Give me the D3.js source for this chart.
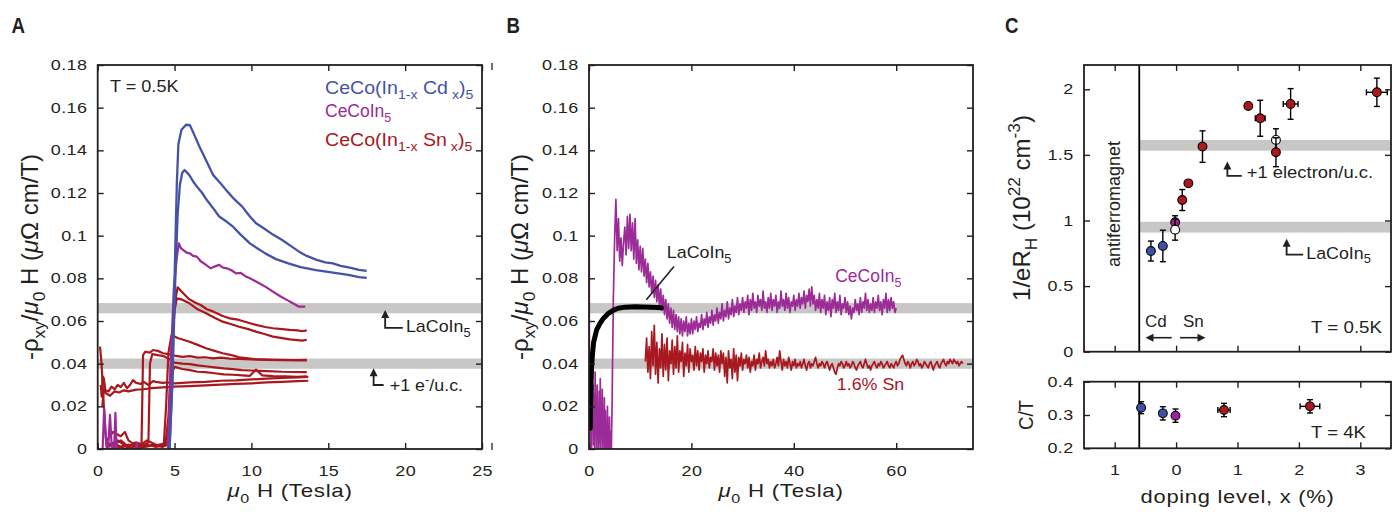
<!DOCTYPE html>
<html><head><meta charset="utf-8">
<script src="https://cdn.jsdelivr.net/npm/d3@7"></script>
<style>
body{margin:0;background:#fff}
svg{display:block;font-family:"Liberation Sans",Arial,Helvetica,sans-serif}
</style>
</head><body><script>
// ---------- data ----------
// panel A : -rho_xy/mu0H vs field, [tesla, value]
const cdHigh = [[4.65,-0.004],[4.85,0.03],[5.0,0.08],[5.15,0.125],[5.25,0.143],[5.45,0.1496],[5.75,0.152],[6.0,0.1518],[6.3,0.147],[6.6,0.142],[7.0,0.136],[7.5,0.1285],[8.0,0.1245],[8.4,0.121],[8.9,0.117],[9.4,0.1136],[9.9,0.109],[10.3,0.1058],[10.8,0.1035],[11.4,0.1005],[12.0,0.098],[12.6,0.095],[13.1,0.0925],[13.6,0.0905],[14.2,0.0888],[14.8,0.0875],[15.3,0.087],[15.8,0.0858],[16.4,0.085],[17.0,0.084],[17.5,0.0835]];
const cdLow = [[4.65,-0.004],[4.85,0.03],[5.05,0.08],[5.2,0.11],[5.35,0.124],[5.5,0.1295],[5.65,0.1308],[5.95,0.1285],[6.2,0.1255],[6.45,0.123],[6.8,0.12],[7.1,0.1167],[7.5,0.113],[7.9,0.109],[8.4,0.1065],[8.8,0.1042],[9.3,0.1005],[9.9,0.0964],[10.4,0.094],[10.9,0.0917],[11.6,0.089],[12.4,0.087],[13.2,0.0853],[14.2,0.0839],[15.2,0.0828],[16.3,0.0816],[17.0,0.0806],[17.5,0.0802]];
const pureA = [[0.3,-0.004],[0.42,0.019],[0.55,0.003],[0.65,-0.004],[0.8,0.016],[0.95,-0.004],[1.05,-0.004],[1.15,0.017],[1.25,-0.004],[2.45,-0.004],[2.55,0.003],[2.65,-0.004],[4.55,-0.004],[4.75,0.04],[4.95,0.075],[5.15,0.09],[5.28,0.0964],[5.42,0.094],[5.55,0.0933],[5.8,0.092],[6.0,0.0917],[6.2,0.0905],[6.45,0.0902],[6.7,0.088],[7.0,0.0865],[7.35,0.0847],[7.6,0.0855],[7.9,0.0863],[8.15,0.085],[8.4,0.0847],[8.7,0.0838],[9.0,0.0823],[9.3,0.0826],[9.6,0.081],[9.9,0.08],[10.3,0.0785],[10.9,0.0761],[11.4,0.0738],[11.9,0.0715],[12.3,0.0699],[12.7,0.0683],[13.1,0.0667],[13.5,0.0667]];
const snA = [
  [[0.55,-0.002],[1.2,0.002],[1.8,0.0],[2.4,0.003],[3.0,0.001],[3.6,0.002],[4.2,0.001],[4.55,0.002],[4.7,0.02],[4.85,0.05],[5.0,0.068],[5.2,0.0758],[5.5,0.0735],[5.9,0.0705],[6.3,0.0688],[6.7,0.0675],[7.1,0.0655],[7.5,0.0645],[8.1,0.0625],[8.6,0.0612],[9.2,0.0605],[9.8,0.0592],[10.3,0.0582],[10.9,0.0572],[11.4,0.0566],[12.0,0.0562],[12.5,0.0558],[13.0,0.0556],[13.3,0.0552],[13.6,0.0556]],
  [[0.7,0.001],[1.3,0.004],[1.9,0.001],[2.6,0.0],[3.2,0.002],[3.8,0.001],[4.4,0.002],[4.6,0.015],[4.8,0.045],[5.0,0.065],[5.15,0.0706],[5.5,0.07],[5.97,0.0683],[6.5,0.0655],[7.05,0.0636],[7.6,0.0615],[8.13,0.0597],[8.7,0.0585],[9.2,0.0573],[9.8,0.0562],[10.3,0.055],[10.9,0.0538],[11.4,0.0527],[12.0,0.052],[12.5,0.0514],[13.0,0.051],[13.3,0.0508],[13.6,0.0512]],
  [[0.6,0.004],[1.0,0.008],[1.5,0.006],[1.77,0.008],[2.0,0.004],[2.6,0.001],[3.2,0.004],[3.8,0.002],[4.3,0.002],[4.45,0.02],[4.6,0.045],[4.8,0.0534],[5.2,0.052],[5.97,0.0503],[6.5,0.0488],[7.05,0.0472],[7.6,0.046],[8.13,0.0449],[8.7,0.044],[9.2,0.043],[9.8,0.0425],[10.3,0.042],[11.0,0.0418],[12.0,0.0416],[13.0,0.0417],[13.6,0.0418]],
  [[0.15,0.048],[0.25,0.04],[0.32,0.03],[0.4,0.02],[0.5,0.008],[0.6,0.001],[1.0,0.003],[1.5,0.001],[2.0,0.002],[2.5,0.001],[2.85,0.002],[2.95,0.044],[3.1,0.0456],[3.4,0.0452],[3.6,0.0464],[3.9,0.046],[4.25,0.0449],[4.6,0.0445],[5.0,0.0438],[5.5,0.0432],[6.0,0.0435],[6.5,0.0428],[7.0,0.043],[7.5,0.0425],[8.0,0.0428],[8.6,0.0424],[9.2,0.0422],[10.0,0.042],[11.0,0.0419],[12.0,0.0418],[13.6,0.0415]],
  [[0.5,0.003],[1.0,0.002],[1.5,0.004],[2.0,0.001],[2.5,0.003],[3.0,0.002],[3.3,0.003],[3.4,0.04],[3.55,0.0445],[3.9,0.044],[4.3,0.0435],[4.7,0.042],[5.0,0.0405],[5.5,0.04],[6.0,0.0398],[6.5,0.0392],[7.0,0.0388],[7.6,0.0383],[8.2,0.0378],[8.8,0.0374],[9.4,0.037],[10.0,0.0368],[11.0,0.0365],[12.0,0.0362],[13.6,0.036]],
  [[1.0,0.0],[2.0,0.002],[3.0,0.001],[4.0,0.002],[4.55,0.003],[4.7,0.02],[4.85,0.036],[5.0,0.0385],[5.5,0.0375],[6.0,0.037],[6.5,0.0362],[7.0,0.036],[7.6,0.0355],[8.2,0.035],[8.8,0.0348],[9.4,0.0345],[9.9,0.0343],[10.3,0.0372],[10.7,0.0345],[11.4,0.0342],[12.2,0.034],[13.0,0.0338],[13.6,0.034]],
  [[0.2,0.03],[0.26,0.0245],[0.33,0.034],[0.4,0.033],[0.5,0.0277],[0.7,0.027],[0.9,0.0292],[1.1,0.028],[1.3,0.03],[1.5,0.029],[1.7,0.031],[1.9,0.0285],[2.1,0.03],[2.3,0.0323],[2.5,0.031],[2.8,0.0305],[3.0,0.0315],[3.3,0.03],[3.6,0.0318],[3.8,0.0315],[4.2,0.031],[4.6,0.0312],[5.0,0.0308],[5.5,0.031],[6.0,0.0312],[7.0,0.0315],[8.0,0.032],[9.0,0.0322],[10.0,0.0326],[11.0,0.033],[12.0,0.0333],[13.0,0.0336],[13.7,0.0338]],
  [[0.3,0.02],[0.4,0.028],[0.55,0.026],[0.8,0.025],[1.1,0.027],[1.4,0.0265],[1.7,0.0275],[2.0,0.027],[2.5,0.0278],[3.0,0.028],[3.5,0.0285],[4.0,0.0288],[4.5,0.029],[5.0,0.0292],[6.0,0.0295],[7.0,0.0298],[8.0,0.0302],[9.0,0.0305],[10.0,0.0308],[11.0,0.0312],[12.0,0.0315],[13.0,0.0318],[13.7,0.032]]
];
const bandsAB = [0.066, 0.040];      // LaCoIn5, +1 e-/u.c. levels
const bandHalf = 0.0024;

// panel B : pulsed field traces
const pureLowStep = 0.1;             // 0 .. 4.4 T
const pureBLow = [
  0.150,0.010,0.035,0.000,0.028,-0.005,0.038,0.010,0.030,0.002,0.025,-0.004,0.036,0.008,0.022,0.000,0.030,0.005,0.018,-0.006,
  0.027,0.003,0.033,0.000,0.020,0.006,0.028,-0.003,0.015,0.004,0.024,-0.006,0.018,0.002,0.012,-0.008,0.020,0.000,0.010,-0.010,
  0.015,-0.005,0.008,-0.010,0.005
];
const pureStart = 4.5, pureStep = 0.25;   // 4.5 .. 60 T
const pureB = [
  0.020,0.070,
  0.098,0.117,0.093,0.108,0.088,0.099,0.086,0.097,0.104,0.091,0.109,0.094,0.110,0.093,0.106,0.089,0.108,0.087,0.098,0.084,
  0.095,0.083,0.094,0.081,0.089,0.078,0.087,0.076,0.083,0.073,0.081,0.071,0.079,0.069,0.077,0.067,0.075,0.065,0.072,0.063,
  0.070,0.061,0.068,0.059,0.066,0.057,0.065,0.056,0.063,0.055,0.062,0.054,0.061,0.053,0.060,0.055,0.062,0.053,0.059,0.054,
  0.061,0.054,0.060,0.056,0.062,0.055,0.059,0.057,0.063,0.056,0.061,0.058,0.064,0.057,0.062,0.059,0.065,0.058,0.063,0.060,
  0.066,0.059,0.064,0.061,0.068,0.060,0.065,0.062,0.069,0.061,0.066,0.063,0.070,0.062,0.067,0.064,0.071,0.063,0.068,0.065,
  0.071,0.064,0.069,0.066,0.072,0.063,0.070,0.065,0.073,0.066,0.069,0.064,0.072,0.067,0.070,0.065,0.074,0.066,0.069,0.064,
  0.071,0.066,0.073,0.065,0.070,0.067,0.072,0.064,0.069,0.066,0.074,0.067,0.070,0.065,0.073,0.066,0.071,0.064,0.069,0.067,
  0.072,0.065,0.070,0.067,0.073,0.066,0.071,0.068,0.074,0.066,0.072,0.069,0.075,0.067,0.076,0.068,0.072,0.065,0.070,0.066,
  0.073,0.064,0.070,0.066,0.072,0.063,0.069,0.065,0.071,0.062,0.070,0.066,0.073,0.064,0.069,0.065,0.072,0.063,0.068,0.066,
  0.071,0.064,0.069,0.063,0.067,0.061,0.066,0.064,0.070,0.065,0.068,0.063,0.071,0.064,0.069,0.066,0.073,0.065,0.070,0.064,
  0.068,0.065,0.071,0.064,0.069,0.066,0.072,0.065,0.069,0.063,0.070,0.066,0.073,0.064,0.070,0.065,0.071,0.066,0.069,0.064,
  0.066
];
const snStart = 11, snStep = 0.25;        // 11 .. 73 T
const snB = [
  0.041,0.052,0.036,0.048,0.033,0.055,0.039,0.058,0.035,0.050,0.031,0.047,0.038,0.054,0.034,0.049,0.037,0.052,0.032,0.046,
  0.040,0.051,0.035,0.048,0.038,0.053,0.036,0.046,0.041,0.050,0.034,0.045,0.039,0.049,0.036,0.047,0.041,0.044,0.037,0.048,
  0.039,0.046,0.037,0.045,0.041,0.047,0.036,0.044,0.040,0.046,0.038,0.043,0.041,0.047,0.037,0.045,0.039,0.044,0.036,0.046,
  0.040,0.045,0.034,0.043,0.031,0.046,0.038,0.042,0.033,0.047,0.036,0.044,0.032,0.043,0.039,0.045,0.037,0.042,0.040,0.044,
  0.038,0.043,0.036,0.041,0.039,0.044,0.037,0.042,0.040,0.045,0.038,0.041,0.043,0.039,0.046,0.040,0.042,0.038,0.041,0.039,
  0.042,0.038,0.040,0.043,0.039,0.046,0.041,0.037,0.042,0.039,0.041,0.038,0.043,0.040,0.037,0.041,0.039,0.042,0.038,0.040,
  0.039,0.041,0.038,0.040,0.042,0.039,0.037,0.040,0.041,0.038,0.040,0.039,0.041,0.043,0.040,0.038,0.040,0.039,0.041,0.040,
  0.038,0.040,0.041,0.039,0.037,0.039,0.040,0.038,0.036,0.035,0.038,0.040,0.039,0.041,0.040,0.038,0.039,0.041,0.039,0.040,
  0.038,0.039,0.041,0.040,0.038,0.037,0.039,0.040,0.041,0.039,0.038,0.040,0.042,0.040,0.038,0.039,0.037,0.039,0.040,0.041,
  0.039,0.038,0.040,0.039,0.041,0.040,0.038,0.039,0.040,0.041,0.039,0.038,0.040,0.039,0.038,0.040,0.041,0.039,0.040,0.042,
  0.043,0.044,0.042,0.040,0.039,0.041,0.040,0.038,0.040,0.041,0.039,0.040,0.042,0.041,0.039,0.040,0.038,0.039,0.041,0.040,
  0.039,0.038,0.040,0.041,0.039,0.037,0.039,0.040,0.041,0.039,0.038,0.040,0.041,0.042,0.040,0.039,0.041,0.040,0.042,0.041,
  0.040,0.042,0.041,0.040,0.041,0.039,0.040,0.041,0.040
];
const laB = [[0.25,0.0097],[0.3,0.02],[0.4,0.03],[0.5,0.0386],[0.7,0.045],[0.9,0.05],[1.17,0.0527],[1.5,0.0558],[2.15,0.0589],[2.8,0.0612],[3.8,0.0636],[4.7,0.065],[5.7,0.066],[7.0,0.0665],[9.0,0.0667],[10.5,0.0666],[12.2,0.0664],[14.2,0.0662]];

// panel C : carrier density and C/T vs doping (Cd on the negative side)
const cdDens  = [{x:-0.41,y:0.767,ey:0.076},{x:-0.216,y:0.806,ey:0.12}];
const pureDens = [{x:-0.016,y:0.986,ey:0.05}];
const openDens = [{x:-0.016,y:0.93,ey:0.08},{x:1.626,y:1.614,ey:0.085}];
const snDens  = [{x:0.10,y:1.156,ey:0.08},{x:0.2,y:1.283,ey:0},{x:0.43,y:1.563,ey:0.12},{x:1.176,y:1.873,ey:0},{x:1.37,y:1.779,ey:0.137,ex:0.08},{x:1.626,y:1.52,ey:0.11},{x:1.865,y:1.888,ey:0.117,ex:0.12},{x:3.27,y:1.977,ey:0.108,ex:0.17}];
const bandsC = [1.573, 0.949];
const bandHalfC = 0.041;
const cdCT   = [{x:-0.57,y:0.322,ey:0.018},{x:-0.216,y:0.305,ey:0.02}];
const pureCT = [{x:-0.01,y:0.298,ey:0.02}];
const snCT   = [{x:0.78,y:0.315,ey:0.02,ex:0.1},{x:2.18,y:0.326,ey:0.02,ex:0.16}];
const afmEdge = -0.6;

const ticksA = [0,5,10,15,20,25], ticksB = [0,20,40,60], ticksC = [-1,0,1,2,3];
const ticksY = d3.range(0, 0.181, 0.02);
const ticksCt = [0,0.5,1,1.5,2], ticksCb = [0.2,0.3,0.4];

// ---------- look ----------
const INK = "#231f20", BLUE = "#4453a8", PURP = "#9c2a97", RED = "#a8181e", BAND = "#c9c6c6";
const TK = 6, SX = 1.24;

const svg = d3.select("body").append("svg").attr("width", 1393).attr("height", 515);
const defs = svg.append("defs");

function rich(g, x, y, parts, o) {
  o = Object.assign({size: 16, sx: 1, rot: 0, anchor: "start", fill: INK, weight: null, ls: 0}, o);
  const t = g.append("text")
    .attr("transform", `translate(${x},${y}) scale(${o.sx},1) rotate(${o.rot})`)
    .attr("text-anchor", o.anchor).attr("fill", o.fill).attr("font-size", o.size);
  if (o.weight) t.attr("font-weight", o.weight);
  if (o.ls) t.attr("letter-spacing", o.ls);
  let cur = 0;
  parts.forEach(p => {
    if (typeof p === "string") p = {t: p};
    const off = p.sub ? 0.3 * o.size : p.sup ? -0.42 * o.size : 0;
    const ts = t.append("tspan").attr("dy", off - cur).text(p.t);
    if (p.sub || p.sup) ts.attr("font-size", o.size * 0.72);
    if (p.it) ts.attr("font-style", "italic");
    cur = off;
  });
  return t;
}

function clipFor(id, x, y) {
  const [x0, x1] = x.range(), [y0, y1] = y.range();
  defs.append("clipPath").attr("id", id).append("rect")
    .attr("x", x0).attr("y", y1).attr("width", x1 - x0).attr("height", y0 - y1);
  return svg.append("g").attr("clip-path", `url(#${id})`);
}

function axes(x, y, o) {
  const [x0, x1] = x.range(), [y0, y1] = y.range();
  const g = svg.append("g");
  const style = sel => {
    sel.attr("font-size", 14.5).attr("font-family", null);
    sel.select(".domain").remove();
    sel.selectAll(".tick line").attr("stroke", INK).attr("stroke-width", 1.4);
    sel.selectAll("text").attr("fill", INK).attr("letter-spacing", 0.3).attr("transform", `scale(${SX},1)`);
  };
  g.append("g").attr("transform", `translate(0,${y0})`)
    .call(d3.axisBottom(x).tickValues(o.xt).tickSize(-TK).tickPadding(16.5).tickFormat(o.xl ? o.xf : ""))
    .call(style);
  g.append("g").attr("transform", `translate(0,${y1})`)
    .call(d3.axisTop(x).tickValues(o.xt).tickSize(-TK).tickFormat("")).call(style);
  g.append("g").attr("transform", `translate(${x0},0)`)
    .call(d3.axisLeft(y).tickValues(o.yt).tickSize(-TK).tickPadding(8.4).tickFormat(o.yf)).call(style);
  g.append("g").attr("transform", `translate(${x1},0)`)
    .call(d3.axisRight(y).tickValues(o.yt).tickSize(-TK).tickFormat("")).call(style);
  g.append("rect").attr("x", x0).attr("y", y1).attr("width", x1 - x0).attr("height", y0 - y1)
    .attr("fill", "none").attr("stroke", INK).attr("stroke-width", 1.8);
}

function bracket(g, tip, end) {
  g.append("path").attr("d", `M${end[0]},${end[1]}H${tip[0]}V${tip[1] + 7}`)
    .attr("fill", "none").attr("stroke", INK).attr("stroke-width", 1.8);
  g.append("path").attr("d", `M${tip[0]},${tip[1]}l-4,8h8z`).attr("fill", INK);
}

const fmtY = d => d === 0 ? "0" : (d3.format(".2f")(d)).replace(/^0\.(\d)0$/, "0.$1");
const yLabelParts = ["-ρ", {t: "xy", sub: true}, "/", {t: "μ", it: true}, {t: "0", sub: true}, " H (", {t: "μ", it: true}, "Ω cm/T)"];
const xLabelParts = [{t: "μ", it: true}, {t: "0", sub: true}, " H (Tesla)"];

// ================= panel A =================
const xA = d3.scaleLinear().domain([0, 25]).range([97.7, 482]);
const yA = d3.scaleLinear().domain([0, 0.18]).range([449, 65]);
{
  const g = clipFor("clipA", xA, yA);
  bandsAB.forEach(b => g.append("rect").attr("x", xA(0)).attr("width", xA(25) - xA(0))
    .attr("y", yA(b + bandHalf)).attr("height", yA(b - bandHalf) - yA(b + bandHalf)).attr("fill", BAND));
  const line = d3.line().x(d => xA(d[0])).y(d => yA(d[1]));
  const draw = (data, c, w) => g.append("path").attr("d", line(data)).attr("fill", "none")
    .attr("stroke", c).attr("stroke-width", w).attr("stroke-linejoin", "round");
  snA.forEach(s => draw(s, RED, 2.2));
  draw(pureA, PURP, 2.2);
  draw(cdLow, BLUE, 2.3);
  draw(cdHigh, BLUE, 2.3);
  axes(xA, yA, {xt: ticksA, xl: true, xf: d3.format("d"), yt: ticksY, yf: fmtY});

  const a = svg.append("g");
  rich(a, 110, 91.5, ["T = 0.5K"], {size: 16, sx: 1.13});
  rich(a, 325, 94, ["CeCo(In", {t: "1-x", sub: true}, " Cd", {t: " x", sub: true}, ")", {t: "5", sub: true}], {size: 17.5, sx: 1.12, fill: BLUE});
  rich(a, 325, 117, ["CeCoIn", {t: "5", sub: true}], {size: 17.5, sx: 1.0, fill: PURP});
  rich(a, 325, 146, ["CeCo(In", {t: "1-x", sub: true}, " Sn", {t: " x", sub: true}, ")", {t: "5", sub: true}], {size: 17.5, sx: 1.12, fill: RED});
  bracket(a, [xA(18.7), yA(0.0652)], [xA(19.85), yA(0.0568)]);
  rich(a, xA(20.05), yA(0.0548), ["LaCoIn", {t: "5", sub: true}], {size: 17, sx: 1.05});
  bracket(a, [xA(17.95), yA(0.0379)], [xA(18.6), yA(0.030)]);
  rich(a, xA(19.0), yA(0.027), ["+1 e", {t: "-", sup: true}, "/u.c."], {size: 17, sx: 1.05});
  rich(a, 290, 497, xLabelParts, {size: 18.6, sx: 1.2, ls: 0.6, anchor: "middle"});
  rich(a, 38, 257, yLabelParts, {size: 24, sx: 1.0, rot: -90, anchor: "middle"});
  rich(a, 11.5, 33.3, ["A"], {size: 22, sx: 0.85, weight: "bold"});
  // stray tick marks just right of panel A
  [[63, 70], [443, 450]].forEach(([u, v]) => a.append("line").attr("x1", 492).attr("x2", 492)
    .attr("y1", u).attr("y2", v).attr("stroke", INK).attr("stroke-width", 1.3));
}

// ================= panel B =================
const xB = d3.scaleLinear().domain([0, 75]).range([589, 973]);
const yB = d3.scaleLinear().domain([0, 0.18]).range([449, 65]);
{
  const g = clipFor("clipB", xB, yB);
  bandsAB.forEach(b => g.append("rect").attr("x", xB(0)).attr("width", xB(75) - xB(0))
    .attr("y", yB(b + bandHalf)).attr("height", yB(b - bandHalf) - yB(b + bandHalf)).attr("fill", BAND));
  const line = d3.line().x(d => xB(d[0])).y(d => yB(d[1]));
  const pts = (vals, h0, dh) => vals.map((v, i) => [h0 + i * dh, v]);
  const pure = pts(pureBLow, 0, pureLowStep).concat(pts(pureB, pureStart, pureStep));
  g.append("path").attr("d", line(pure)).attr("fill", "none")
    .attr("stroke", PURP).attr("stroke-width", 1.7).attr("stroke-linejoin", "round");
  g.append("path").attr("d", line(pts(snB, snStart, snStep))).attr("fill", "none")
    .attr("stroke", RED).attr("stroke-width", 1.7).attr("stroke-linejoin", "round");
  g.append("path").attr("d", line(laB)).attr("fill", "none")
    .attr("stroke", "#000").attr("stroke-width", 5).attr("stroke-linecap", "round").attr("stroke-linejoin", "round");
  axes(xB, yB, {xt: ticksB, xl: true, xf: d3.format("d"), yt: ticksY, yf: fmtY});

  const a = svg.append("g");
  a.append("line").attr("x1", xB(11.2)).attr("y1", yB(0.070)).attr("x2", xB(16.6)).attr("y2", yB(0.0855))
    .attr("stroke", INK).attr("stroke-width", 1.6);
  rich(a, xB(15.2), yB(0.0895), ["LaCoIn", {t: "5", sub: true}], {size: 17, sx: 1.05});
  rich(a, xB(48.1), yB(0.0785), ["CeCoIn", {t: "5", sub: true}], {size: 18, sx: 0.97, fill: PURP});
  rich(a, xB(48.4), yB(0.0277), ["1.6% Sn"], {size: 17, sx: 1.05, fill: RED});
  rich(a, (589 + 973) / 2, 497, xLabelParts, {size: 18.6, sx: 1.2, ls: 0.6, anchor: "middle"});
  rich(a, 528, 257, yLabelParts, {size: 24, sx: 1.0, rot: -90, anchor: "middle"});
  rich(a, 506.5, 33.3, ["B"], {size: 22, sx: 0.85, weight: "bold"});
}

// ================= panel C =================
const xC = d3.scaleLinear().domain([-1.5, 3.5]).range([1084, 1391]);
const yCt = d3.scaleLinear().domain([0, 2.185]).range([351.7, 65]);
const yCb = d3.scaleLinear().domain([0.2, 0.4]).range([448.3, 381.7]);
function markers(g, data, y, fill, barsOnTop) {
  const bars = () => data.forEach(d => {
    const s = g.append("g").attr("stroke", "#000").attr("stroke-width", 1.4);
    if (d.ey) {
      s.append("line").attr("x1", xC(d.x)).attr("x2", xC(d.x)).attr("y1", y(d.y - d.ey)).attr("y2", y(d.y + d.ey));
      [d.y - d.ey, d.y + d.ey].forEach(v => s.append("line").attr("x1", xC(d.x) - 3).attr("x2", xC(d.x) + 3).attr("y1", y(v)).attr("y2", y(v)));
    }
    if (d.ex) {
      s.append("line").attr("y1", y(d.y)).attr("y2", y(d.y)).attr("x1", xC(d.x - d.ex)).attr("x2", xC(d.x + d.ex));
      [d.x - d.ex, d.x + d.ex].forEach(v => s.append("line").attr("y1", y(d.y) - 3).attr("y2", y(d.y) + 3).attr("x1", xC(v)).attr("x2", xC(v)));
    }
  });
  if (!barsOnTop) bars();
  g.selectAll(null).data(data).enter().append("circle")
    .attr("cx", d => xC(d.x)).attr("cy", d => y(d.y)).attr("r", 4.4)
    .attr("fill", fill).attr("stroke", "#000").attr("stroke-width", 1.1);
  if (barsOnTop) bars();
}
{
  const g = clipFor("clipCt", xC, yCt);
  bandsC.forEach(b => g.append("rect").attr("x", xC(afmEdge)).attr("width", xC(3.5) - xC(afmEdge))
    .attr("y", yCt(b + bandHalfC)).attr("height", yCt(b - bandHalfC) - yCt(b + bandHalfC)).attr("fill", BAND));
  g.append("line").attr("x1", xC(afmEdge)).attr("x2", xC(afmEdge)).attr("y1", yCt(0)).attr("y2", yCt(2.185))
    .attr("stroke", "#000").attr("stroke-width", 1.8);
  const m = svg.append("g");
  markers(m, cdDens, yCt, "#3f51a6");
  markers(m, pureDens, yCt, "#a1229b", true);
  markers(m, openDens, yCt, "#fff");
  markers(m, snDens, yCt, "#ae171d");
  axes(xC, yCt, {xt: ticksC, xl: false, yt: ticksCt, yf: d3.format("")});

  const g2 = clipFor("clipCb", xC, yCb);
  g2.append("line").attr("x1", xC(afmEdge)).attr("x2", xC(afmEdge)).attr("y1", yCb(0.2)).attr("y2", yCb(0.4))
    .attr("stroke", "#000").attr("stroke-width", 1.8);
  const m2 = svg.append("g");
  markers(m2, cdCT, yCb, "#3f51a6");
  markers(m2, pureCT, yCb, "#a1229b");
  markers(m2, snCT, yCb, "#ae171d");
  axes(xC, yCb, {xt: ticksC, xl: true, xf: d => String(Math.abs(d)), yt: ticksCb, yf: d3.format(".1f")});

  const a = svg.append("g");
  rich(a, 1120, 204, ["antiferromagnet"], {size: 18, sx: 1.0, rot: -90, anchor: "middle"});
  bracket(a, [xC(0.835), yCt(1.45)], [xC(1.07), yCt(1.34)]);
  rich(a, xC(1.15), yCt(1.32), ["+1 electron/u.c."], {size: 16.3, sx: 1.13});
  bracket(a, [xC(1.8), yCt(0.86)], [xC(2.07), yCt(0.74)]);
  rich(a, xC(2.12), yCt(0.71), ["LaCoIn", {t: "5", sub: true}], {size: 16.5, sx: 1.08});
  rich(a, 1145, 327.3, ["Cd"], {size: 17});
  rich(a, 1183, 327.3, ["Sn"], {size: 17});
  a.append("path").attr("d", "M1171.7,337.7H1152").attr("stroke", INK).attr("stroke-width", 1.6);
  a.append("path").attr("d", "M1145.5,337.7l8,-4v8z").attr("fill", INK);
  a.append("path").attr("d", "M1180,337.7H1199").attr("stroke", INK).attr("stroke-width", 1.6);
  a.append("path").attr("d", "M1205.5,337.7l-8,-4v8z").attr("fill", INK);
  rich(a, 1382, 333.3, ["T = 0.5K"], {size: 16.3, sx: 1.15, anchor: "end"});
  rich(a, 1366, 437.7, ["T = 4K"], {size: 16.3, sx: 1.14, anchor: "end"});
  rich(a, 1237.5, 503, ["doping level, x (%)"], {size: 18.6, sx: 1.18, ls: 0.6, anchor: "middle"});
  rich(a, 1030, 208, ["1/eR", {t: "H", sub: true}, " (10", {t: "22", sup: true}, " cm", {t: "-3", sup: true}, ")"], {size: 24, sx: 1.0, rot: -90, anchor: "middle"});
  rich(a, 1033, 415, ["C/T"], {size: 18.6, sx: 1.1, rot: -90, anchor: "middle"});
  rich(a, 1005, 33.3, ["C"], {size: 22, sx: 0.85, weight: "bold"});
}
</script></body></html>
